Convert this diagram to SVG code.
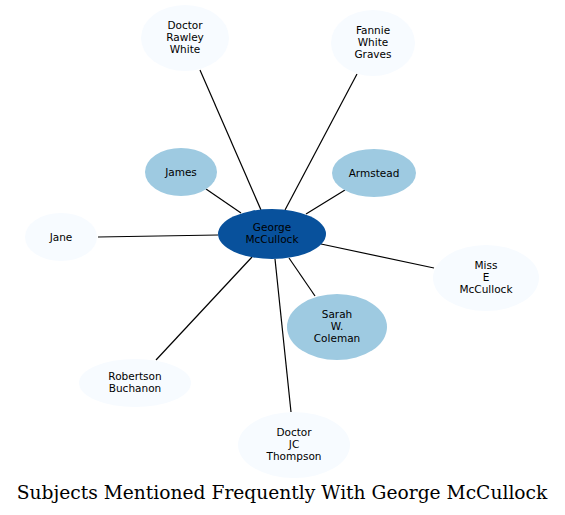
<svg xmlns="http://www.w3.org/2000/svg" width="565" height="515" viewBox="0 0 565 515">
<style>
.n text{font-family:"DejaVu Sans",sans-serif;font-size:10.5px;text-anchor:middle;fill:#000}
.light{fill:#f7fbff}
.mid{fill:#9ecae1}
.dark{fill:#08519c}
#edges line{stroke:#000;stroke-width:1.2}
.title{font-family:"DejaVu Serif",serif;font-size:18.67px;text-anchor:middle;fill:#000}
</style>
<rect width="565" height="515" fill="#fff"/>
<g id="edges">
<line x1="261" y1="210" x2="200" y2="70"/>
<line x1="285" y1="210" x2="357" y2="74"/>
<line x1="241" y1="213" x2="206" y2="189"/>
<line x1="306" y1="214" x2="345" y2="190"/>
<line x1="218" y1="235" x2="98" y2="237"/>
<line x1="321" y1="244" x2="434" y2="268"/>
<line x1="289" y1="258" x2="315" y2="296"/>
<line x1="252" y1="257" x2="156" y2="360"/>
<line x1="275" y1="259" x2="291" y2="412"/>
</g>
<g id="george" class="n"><ellipse class="dark" cx="272" cy="234" rx="54" ry="25"/><text x="272" y="231">George</text><text x="272" y="243">McCullock</text></g>
<g id="rawley" class="n"><ellipse class="light" cx="185" cy="38" rx="44" ry="33"/><text x="185" y="29">Doctor</text><text x="185" y="41">Rawley</text><text x="185" y="53">White</text></g>
<g id="fannie" class="n"><ellipse class="light" cx="373" cy="43" rx="42" ry="33"/><text x="373" y="34">Fannie</text><text x="373" y="46">White</text><text x="373" y="58">Graves</text></g>
<g id="james" class="n"><ellipse class="mid" cx="181" cy="172" rx="36" ry="24"/><text x="181" y="176">James</text></g>
<g id="armstead" class="n"><ellipse class="mid" cx="374" cy="173" rx="42" ry="24"/><text x="374" y="177">Armstead</text></g>
<g id="jane" class="n"><ellipse class="light" cx="61" cy="237" rx="36" ry="24"/><text x="61" y="241">Jane</text></g>
<g id="misse" class="n"><ellipse class="light" cx="486" cy="278" rx="53" ry="33"/><text x="486" y="269">Miss</text><text x="486" y="281">E</text><text x="486" y="293">McCullock</text></g>
<g id="sarah" class="n"><ellipse class="mid" cx="337" cy="327" rx="50" ry="33"/><text x="337" y="318">Sarah</text><text x="337" y="330">W.</text><text x="337" y="342">Coleman</text></g>
<g id="robertson" class="n"><ellipse class="light" cx="135" cy="383" rx="56" ry="24"/><text x="135" y="380">Robertson</text><text x="135" y="392">Buchanon</text></g>
<g id="thompson" class="n"><ellipse class="light" cx="294" cy="445" rx="56" ry="33"/><text x="294" y="436">Doctor</text><text x="294" y="448">JC</text><text x="294" y="460">Thompson</text></g>
<text class="title" x="282" y="499">Subjects Mentioned Frequently With George McCullock</text>
</svg>
